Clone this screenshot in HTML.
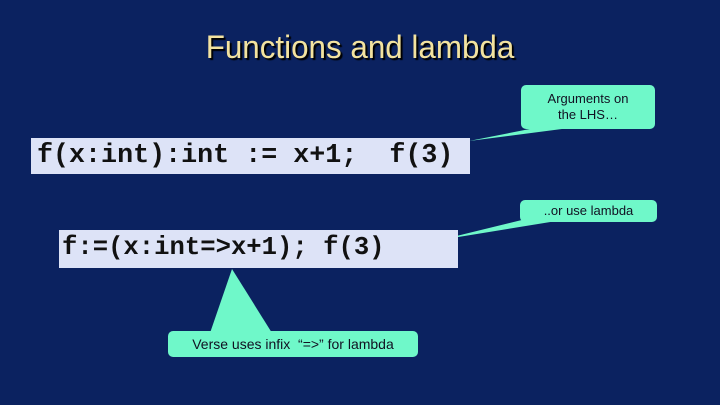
<!DOCTYPE html>
<html><head><style>
body{margin:0;width:720px;height:405px;background:#0b2260;overflow:hidden;position:relative;font-family:"Liberation Sans",sans-serif}
.t{position:absolute;left:0;width:720px;top:29px;text-align:center;font-size:32px;color:#f3e3a0;text-shadow:2px 2px 1px #000;transform:scaleX(0.98)}
.box{position:absolute;background:#dde3f7;font-family:"Liberation Mono",monospace;font-weight:bold;color:#111;white-space:pre}
.c{position:absolute;background:#6ff8c9;border-radius:5px;font-size:13px;color:#112;text-align:center;line-height:16px}
</style></head><body>
<div class="t">Functions and lambda</div>
<svg width="720" height="405" style="position:absolute;left:0;top:0">
<polygon points="545,126 469,141 585,126" fill="#6ff8c9"/>
<polygon points="530,218 440,240 575,218" fill="#6ff8c9"/>
<polygon points="210,333 232,269 272,333" fill="#6ff8c9"/>
</svg>
<div class="box" style="left:31px;top:138px;width:439px;height:36px;line-height:36px;padding-left:6px;box-sizing:border-box;font-size:26.7px">f(x:int):int := x+1;  f(3)</div>
<div class="box" style="left:59px;top:230px;width:399px;height:38px;line-height:36px;padding-left:3px;box-sizing:border-box;font-size:25.6px">f:=(x:int=&gt;x+1); f(3)</div>
<div class="c" style="left:521px;top:85px;width:134px;height:44px;padding-top:6px;box-sizing:border-box">Arguments on<br>the LHS…</div>
<div class="c" style="left:520px;top:200px;width:137px;height:22px;line-height:22px">..or use lambda</div>
<div class="c" style="left:168px;top:331px;width:250px;height:26px;line-height:26px;font-size:14px">Verse uses infix &nbsp;“=&gt;” for lambda</div>
</body></html>
